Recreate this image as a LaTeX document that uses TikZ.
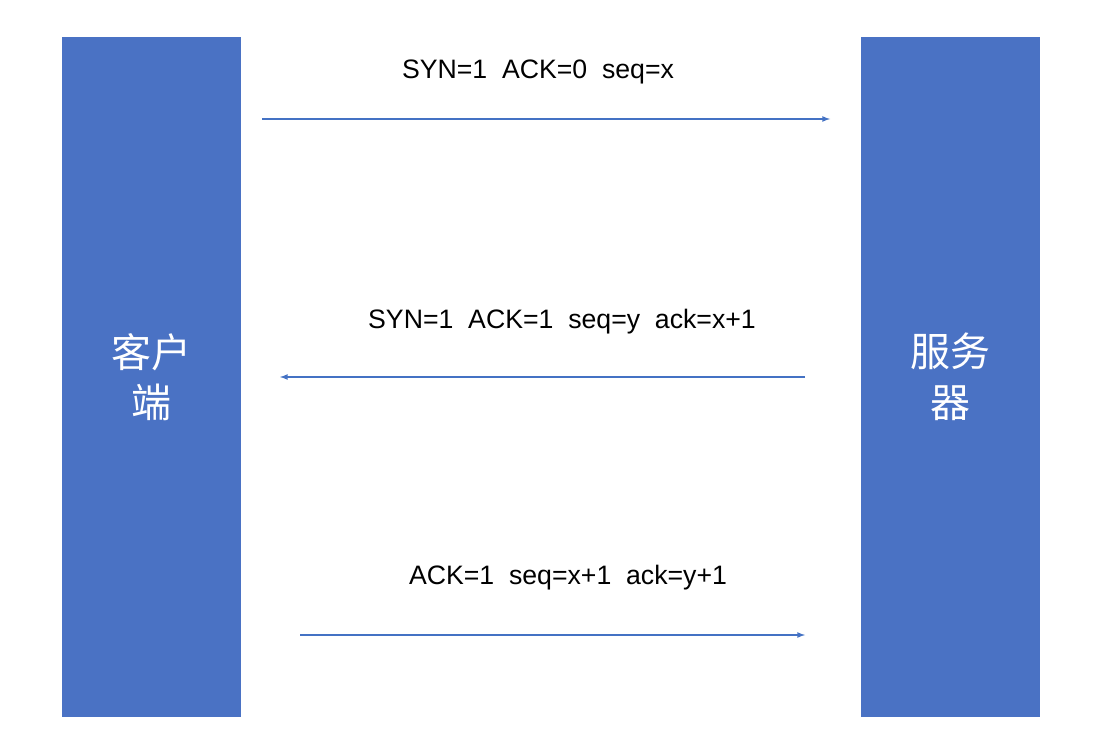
\documentclass[tikz,border=0pt]{standalone}
\usepackage{fontspec}
\setmainfont{Liberation Sans}
\newfontfamily\cjk{Noto Sans CJK SC}
\definecolor{boxblue}{HTML}{4A72C4}
\definecolor{arrowblue}{HTML}{4472C4}
\begin{document}
\begin{tikzpicture}[x=0.75pt,y=-0.75pt,
  hostbox/.style={fill=boxblue,draw=none,minimum width=134.25pt,minimum height=510pt,inner sep=0pt,text=white,font=\cjk\fontsize{30}{38}\selectfont,align=center},
  msg/.style={draw=arrowblue,line width=1pt,-latex},
  lbl/.style={font=\fontsize{20}{24}\selectfont,inner sep=0pt}]
\fill[white] (0,0) rectangle (1106,752);
\useasboundingbox (0,0) rectangle (1106,752);
\node[hostbox] (client) at (151.5,377) {客户\\端};
\node[hostbox] (server) at (950.5,377) {服务\\器};
\coordinate (a1s) at (262,119); \coordinate (a1e) at (830,119);
\coordinate (a2s) at (805,377); \coordinate (a2e) at (280,377);
\coordinate (a3s) at (300,635); \coordinate (a3e) at (805,635);
\draw[msg] (a1s) -- (a1e);
\draw[msg] (a2s) -- (a2e);
\draw[msg] (a3s) -- (a3e);
\node[lbl] (l1) at (538,72) {SYN=1\ \ ACK=0\ \ seq=x};
\node[lbl] (l2) at (562,322) {SYN=1\ \ ACK=1\ \ seq=y\ \ ack=x+1};
\node[lbl] (l3) at (568,578) {ACK=1\ \ seq=x+1\ \ ack=y+1};
\end{tikzpicture}
\end{document}
